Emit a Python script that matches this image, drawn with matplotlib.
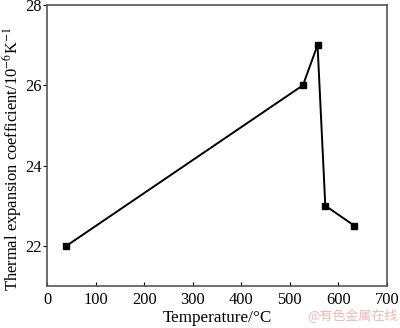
import matplotlib
matplotlib.use('Agg')
import matplotlib.pyplot as plt

temperature = [40, 527, 557, 573, 633]
cte = [22.0, 26.0, 27.0, 23.0, 22.5]
xticks = [0, 100, 200, 300, 400, 500, 600, 700]
yticks = [22, 24, 26, 28]


def main():
    plt.rcParams['font.family'] = ['Liberation Serif', 'DejaVu Serif']
    plt.rcParams['mathtext.fontset'] = 'stix'
    fig = plt.figure(figsize=(4.0, 3.28), dpi=100)
    ax = fig.add_axes([0.1175, 0.128, 0.85, 0.857])

    ax.plot(temperature, cte, color='black', lw=1.4, marker='s',
            markersize=4.5)

    ax.set_xlim(0, 700)
    ax.set_ylim(21, 28)
    ax.set_xticks(xticks)
    ax.set_yticks(yticks)
    ax.tick_params(axis='x', direction='in', length=3, labelsize=11.8, pad=4)
    ax.tick_params(axis='y', direction='out', length=3, labelsize=11.8, pad=1)
    for s in ax.spines.values():
        s.set_color('#555555')
        s.set_linewidth(1.2)

    ax.set_xlabel('Temperature/\u00b0C', fontsize=12.3, labelpad=2)
    ax.set_ylabel(r'Thermal expansion coefficient/10$^{-6}$K$^{-1}$',
                  fontsize=11.9)
    ax.yaxis.set_label_coords(-0.068, 0.452)

    fig.text(0.995, 0.015, '@有色金属在线', color='#f2b8b8', fontsize=9.4,
             ha='right', va='bottom',
             family=['Noto Sans CJK SC', 'DejaVu Sans'])

    plt.savefig('out.png', dpi=100)
    plt.close()


if __name__ == '__main__':
    main()
